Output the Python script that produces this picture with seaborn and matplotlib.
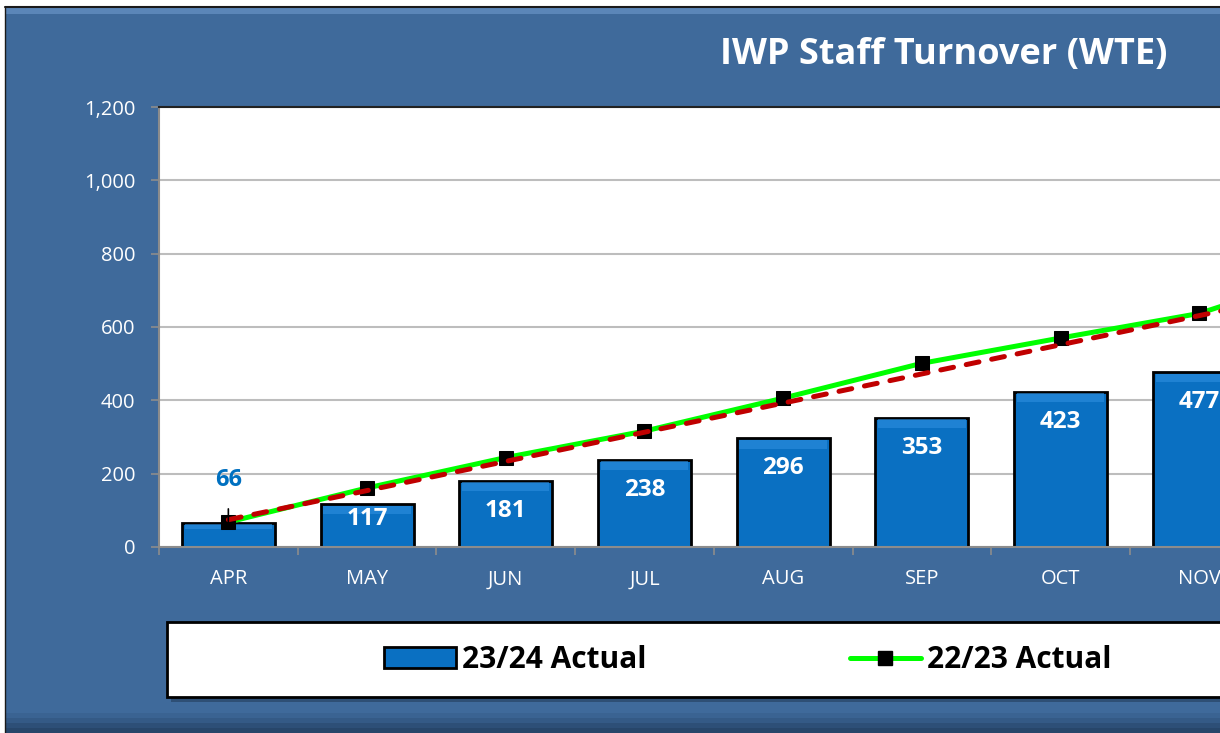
import numpy as np
import pandas as pd
import matplotlib
matplotlib.use("Agg")
import matplotlib.pyplot as plt
import seaborn as sns
from matplotlib.patches import Rectangle, Patch
from matplotlib.lines import Line2D
from matplotlib.ticker import FuncFormatter, FixedLocator

# ---------------- data ----------------
months = ["APR", "MAY", "JUN", "JUL", "AUG", "SEP", "OCT", "NOV", "DEC"]
actual_2324 = [66, 117, 181, 238, 296, 353, 423, 477]
actual_2223 = [68, 161, 244, 316, 406, 501, 570, 637, 760]
trend_2223 = [79, 157, 231, 304, 395, 467, 552, 637]   # red dashed trend
y_ticks = [0, 200, 400, 600, 800, 1000, 1200]
title_text = "IWP Staff Turnover (WTE)"
legend_labels = ["23/24 Actual", "22/23 Actual"]

# ---------------- style ----------------
sns.set_theme(style="white")
plt.rcParams["font.family"] = ["Open Sans", "DejaVu Sans"]

W, H = 1220, 733
PANEL = "#3F6A9B"
BAR = "#0A70C2"
GREEN = "#00FF00"
RED = "#C00000"

fig = plt.figure(figsize=(W / 100, H / 100), dpi=100)
fig.patch.set_facecolor("white")

# blue panel background
fig.patches.append(Rectangle((5 / W, 0), 1, 1 - 7 / H, transform=fig.transFigure,
                             facecolor=PANEL, edgecolor="none", zorder=-10))
fig.patches.append(Rectangle((5 / W, 1 - 14 / H), 1, 6 / H, transform=fig.transFigure,
                             facecolor="#5B86B8", edgecolor="none", zorder=-9))
for k, c in enumerate(["#3A6392", "#345A86", "#2D4F77", "#27466A"]):
    fig.patches.append(Rectangle((5 / W, 0), 1, (20 - 5 * k) / H, transform=fig.transFigure,
                                 facecolor=c, edgecolor="none", zorder=-9))
fig.add_artist(Line2D([5 / W, 1], [1 - 7 / H, 1 - 7 / H], transform=fig.transFigure,
                      color="#1a1a1a", lw=1.5))
fig.add_artist(Line2D([5 / W, 5 / W], [0, 1 - 7 / H], transform=fig.transFigure,
                      color="#1a1a1a", lw=1.0))

# ---------------- axes ----------------
step = 138.7
left_px, top_px, bottom_px = 159, 107, 547
n_slots = 9
ax = fig.add_axes([left_px / W, (H - bottom_px) / H, n_slots * step / W,
                   (bottom_px - top_px) / H])
ax.set_facecolor("white")

df_bar = pd.DataFrame({"month": months[:len(actual_2324)], "value": actual_2324})
sns.barplot(data=df_bar, x="month", y="value", color=BAR, saturation=1, width=0.67,
            edgecolor="black", linewidth=2, ax=ax, zorder=2)

# bevel highlights on bars
for p in list(ax.patches):
    x0, w, h = p.get_x(), p.get_width(), p.get_height()
    ax.add_patch(Rectangle((x0 + 0.02, h - min(h * 0.25, 28)), w - 0.04, min(h * 0.22, 24),
                           facecolor="#2E8FE0", edgecolor="none", zorder=2.1, alpha=0.6))

x_line = np.arange(len(actual_2223))
df_line = pd.DataFrame({"x": x_line, "value": actual_2223})
sns.lineplot(data=df_line, x="x", y="value", color=GREEN, lw=3.6, marker="s",
             markersize=10, markerfacecolor="black", markeredgecolor="black",
             ax=ax, zorder=4)

# linear trend line (fitted to the read trend values), extended to the right
coef = np.polyfit(np.arange(len(trend_2223)), trend_2223, 1)
xt = np.linspace(0, n_slots - 0.5, 50)
ax.plot(xt, np.polyval(coef, xt), color=RED, lw=3.6, ls=(0, (2.6, 2.6)),
        dash_capstyle="round", zorder=5)

# bar labels
for i, v in enumerate(actual_2324):
    if i == 0:
        ax.annotate(str(v), xy=(i, v), xytext=(0, 31), textcoords="offset points",
                    ha="center", va="center", color="#0070C0", fontsize=17,
                    fontweight="bold", zorder=6,
                    arrowprops=dict(arrowstyle="-", color="black", lw=1.2,
                                    shrinkA=10, shrinkB=0))
    else:
        off = 10.8 if v < 150 else 21.6
        ax.annotate(str(v), xy=(i, v), xytext=(0, -off), textcoords="offset points",
                    ha="center", va="center", color="white", fontsize=17.5,
                    fontweight="bold", zorder=6)

ax.set_xlim(-0.5, n_slots - 0.5)
ax.set_ylim(y_ticks[0], y_ticks[-1])
ax.set_yticks(y_ticks)
ax.yaxis.set_major_formatter(FuncFormatter(lambda v, p: f"{int(v):,}"))
ax.set_xticks(range(len(months)))
ax.set_xticklabels(months)
ax.xaxis.set_minor_locator(FixedLocator(np.arange(-0.5, n_slots, 1.0)))
ax.set_xlabel("")
ax.set_ylabel("")
ax.yaxis.grid(True, color="#BDBDBD", lw=1.5, zorder=0)
ax.set_axisbelow(True)

ax.tick_params(axis="y", which="major", direction="out", length=6, width=1.2,
               color="#8C8C8C", labelcolor="white", labelsize=14.5, pad=11, left=True)
ax.tick_params(axis="x", which="major", length=0, labelcolor="white",
               labelsize=14.5, pad=16)
ax.tick_params(axis="x", which="minor", direction="out", length=6, width=1.2,
               color="#8C8C8C", bottom=True)

for s in ["left", "bottom"]:
    ax.spines[s].set_color("#8C8C8C")
    ax.spines[s].set_linewidth(1.5)
ax.spines["top"].set_color("#222222")
ax.spines["top"].set_linewidth(1.5)
ax.spines["right"].set_visible(False)

# ---------------- title ----------------
fig.text(1168 / W, 1 - 55 / H, title_text, ha="right", va="center", color="white",
         fontsize=26, fontweight="bold")

# ---------------- legend ----------------
fig.patches.append(Rectangle((171 / W, 1 - 702 / H), 1, 75 / H, transform=fig.transFigure,
                             facecolor="#2E4F75", edgecolor="none", zorder=1))
fig.patches.append(Rectangle((167 / W, 1 - 697 / H), 1, 75 / H, transform=fig.transFigure,
                             facecolor="white", edgecolor="black", lw=2, zorder=2))
handles = [Patch(facecolor=BAR, edgecolor="black", lw=2),
           Line2D([], [], color=GREEN, lw=3.6, marker="s", markersize=10,
                  markerfacecolor="black", markeredgecolor="black")]
leg = fig.legend(handles, legend_labels, loc="center",
                 bbox_to_anchor=(748 / W, 1 - 660 / H), ncol=2, frameon=False,
                 prop={"size": 21.5, "weight": "bold"}, handlelength=2.4,
                 columnspacing=6.8, handletextpad=0.2, labelcolor="black")
leg.set_zorder(3)

fig.savefig("out.png", dpi=100)
